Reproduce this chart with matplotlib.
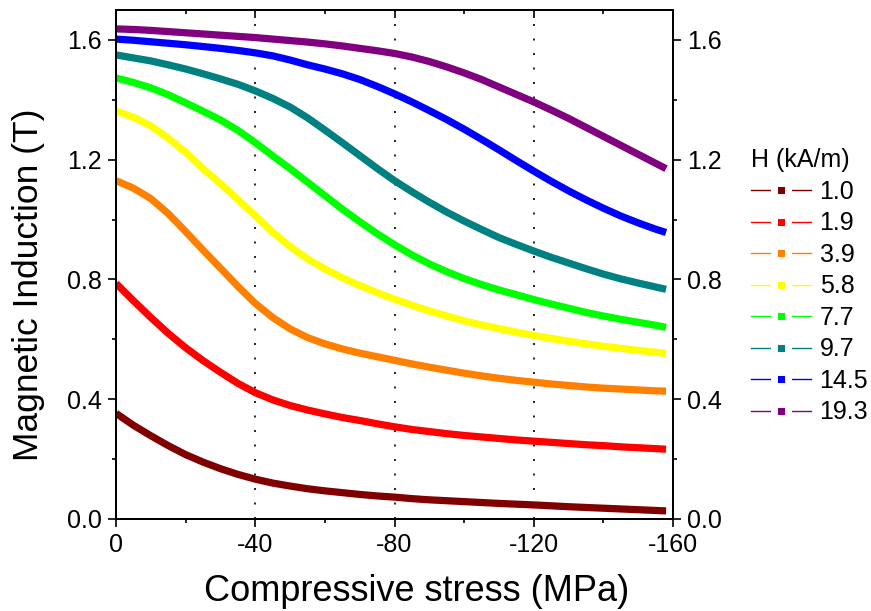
import matplotlib
matplotlib.use("Agg")
import matplotlib.pyplot as plt
from matplotlib.lines import Line2D
from matplotlib.ticker import MultipleLocator, FormatStrFormatter

plt.rcParams['font.family'] = ['Liberation Sans', 'DejaVu Sans']
plt.rcParams['axes.unicode_minus'] = False

# compressive stress (MPa)
stress = [0, -5, -10, -15, -20, -25, -30, -35, -40, -45, -50, -55, -60,
          -65, -70, -75, -80, -85, -90, -95, -100, -105, -110, -115, -120,
          -125, -130, -135, -140, -145, -150, -155, -158]

# magnetic induction (T) for each field strength H (kA/m)
b_1_0 = [0.353, 0.313, 0.278, 0.245, 0.215, 0.19, 0.168, 0.149, 0.133,
         0.12, 0.11, 0.101, 0.094, 0.088, 0.082, 0.077, 0.073, 0.068, 0.064,
         0.061, 0.058, 0.055, 0.052, 0.0495, 0.047, 0.044, 0.041, 0.0385,
         0.036, 0.0335, 0.031, 0.0285, 0.027]
b_1_9 = [0.787, 0.729, 0.673, 0.62, 0.572, 0.529, 0.49, 0.453, 0.422,
         0.398, 0.379, 0.364, 0.351, 0.339, 0.329, 0.318, 0.308, 0.299,
         0.292, 0.285, 0.279, 0.274, 0.269, 0.264, 0.26, 0.256, 0.252,
         0.248, 0.245, 0.241, 0.238, 0.235, 0.233]
b_3_9 = [1.13, 1.105, 1.07, 1.02, 0.96, 0.898, 0.838, 0.777, 0.72, 0.673,
         0.635, 0.606, 0.585, 0.568, 0.554, 0.542, 0.53, 0.518, 0.507, 0.497,
         0.487, 0.478, 0.47, 0.463, 0.457, 0.451, 0.446, 0.441, 0.437,
         0.434, 0.431, 0.428, 0.427]
b_5_8 = [1.363, 1.342, 1.313, 1.272, 1.225, 1.17, 1.12, 1.067, 1.013,
         0.958, 0.91, 0.869, 0.835, 0.806, 0.78, 0.756, 0.734, 0.714,
         0.695, 0.678, 0.662, 0.648, 0.636, 0.624, 0.613, 0.603, 0.594,
         0.585, 0.577, 0.57, 0.563, 0.557, 0.553]
b_7_7 = [1.473, 1.458, 1.44, 1.417, 1.39, 1.362, 1.333, 1.298, 1.257,
         1.213, 1.17, 1.125, 1.08, 1.035, 0.993, 0.953, 0.916, 0.882, 0.852,
         0.826, 0.803, 0.783, 0.765, 0.749, 0.733, 0.718, 0.704, 0.69,
         0.678, 0.667, 0.657, 0.647, 0.64]
b_9_7 = [1.55, 1.54, 1.53, 1.517, 1.503, 1.487, 1.47, 1.452, 1.43, 1.405,
         1.376, 1.34, 1.299, 1.257, 1.214, 1.171, 1.13, 1.093, 1.058,
         1.025, 0.995, 0.967, 0.94, 0.917, 0.895, 0.874, 0.855, 0.836,
         0.818, 0.802, 0.788, 0.775, 0.767]
b_14_5 = [1.603, 1.599, 1.594, 1.589, 1.584, 1.578, 1.572, 1.565, 1.557,
          1.547, 1.533, 1.517, 1.503, 1.487, 1.468, 1.445, 1.42, 1.393,
          1.364, 1.334, 1.302, 1.268, 1.233, 1.197, 1.162, 1.128, 1.096,
          1.066, 1.038, 1.012, 0.989, 0.968, 0.957]
b_19_3 = [1.637, 1.635, 1.632, 1.628, 1.624, 1.62, 1.616, 1.612, 1.608,
          1.603, 1.598, 1.593, 1.587, 1.58, 1.572, 1.564, 1.555, 1.543,
          1.528, 1.51, 1.49, 1.468, 1.443, 1.418, 1.393, 1.366, 1.338,
          1.308, 1.278, 1.248, 1.218, 1.188, 1.17]

field_labels = ['1.0', '1.9', '3.9', '5.8', '7.7', '9.7', '14.5', '19.3']
series = [b_1_0, b_1_9, b_3_9, b_5_8, b_7_7, b_9_7, b_14_5, b_19_3]
colors = ['#800000', '#ff0000', '#ff8000', '#ffff00',
          '#00ff00', '#008080', '#0000ff', '#800080']

fig = plt.figure(figsize=(8.71, 6.11), dpi=100)
ax = fig.add_axes([0.1332, 0.1506, 0.6395, 0.833])

for x in [-40, -80, -120]:
    ax.axvline(x, color='black', lw=1.2, ls=(0, (1.2, 7.5)), zorder=1)

for vals, c in zip(series, colors):
    ax.plot(stress, vals, color=c, lw=5.2, solid_capstyle='butt',
            solid_joinstyle='round', zorder=2)

ax.set_xlim(0, -160)
ax.set_ylim(0, 1.7)
ax.xaxis.set_minor_locator(MultipleLocator(20))
ax.yaxis.set_major_locator(MultipleLocator(0.4))
ax.yaxis.set_minor_locator(MultipleLocator(0.2))
ax.yaxis.set_major_formatter(FormatStrFormatter('%.1f'))
ax.set_xticks([0, -40, -80, -120, -160])
ax.set_xticklabels(['0', '-40', '-80', '-120', '-160'])

for sp in ax.spines.values():
    sp.set_linewidth(1.4)
ax.tick_params(which='major', direction='out', length=6, width=1.2, labelsize=18, pad=4)
ax.tick_params(which='minor', direction='out', length=3, width=1.2)

# right axis with same scale
ax2 = ax.twinx()
ax2.set_ylim(ax.get_ylim())
ax2.yaxis.set_major_locator(MultipleLocator(0.4))
ax2.yaxis.set_minor_locator(MultipleLocator(0.2))
ax2.yaxis.set_major_formatter(FormatStrFormatter('%.1f'))
ax2.tick_params(which='major', direction='out', length=6, width=1.2, labelsize=18, pad=4)
ax2.tick_params(which='minor', direction='out', length=3, width=1.2)
for sp in ax2.spines.values():
    sp.set_linewidth(1.4)

# top ticks pointing inward
top = ax.secondary_xaxis('top')
top.xaxis.set_major_locator(MultipleLocator(40))
top.xaxis.set_minor_locator(MultipleLocator(20))
top.tick_params(which='major', direction='in', length=6, width=1.2, labeltop=False)
top.tick_params(which='minor', direction='in', length=3, width=1.2)
top.spines['top'].set_linewidth(1.4)

ax.set_xlabel('Compressive stress (MPa)', fontsize=26)
ax.set_ylabel('Magnetic Induction (T)', fontsize=25.5)
ax.xaxis.set_label_coords(0.539, -0.108)
ax.yaxis.set_label_coords(-0.127, 0.46)

handles = [Line2D([], [], color=c, lw=1, marker='s', markersize=10,
                  markerfacecolor=c, markeredgecolor='white', markeredgewidth=5)
           for c in colors]
leg = fig.legend(handles, field_labels, title='H (kA/m)', loc='upper left',
                 bbox_to_anchor=(0.862, 0.757), frameon=False, fontsize=18,
                 title_fontsize=18, handlelength=2.4, handletextpad=0.35,
                 labelspacing=0.30, borderaxespad=0, borderpad=0,
                 alignment='left')

fig.savefig('out.png', dpi=100)
